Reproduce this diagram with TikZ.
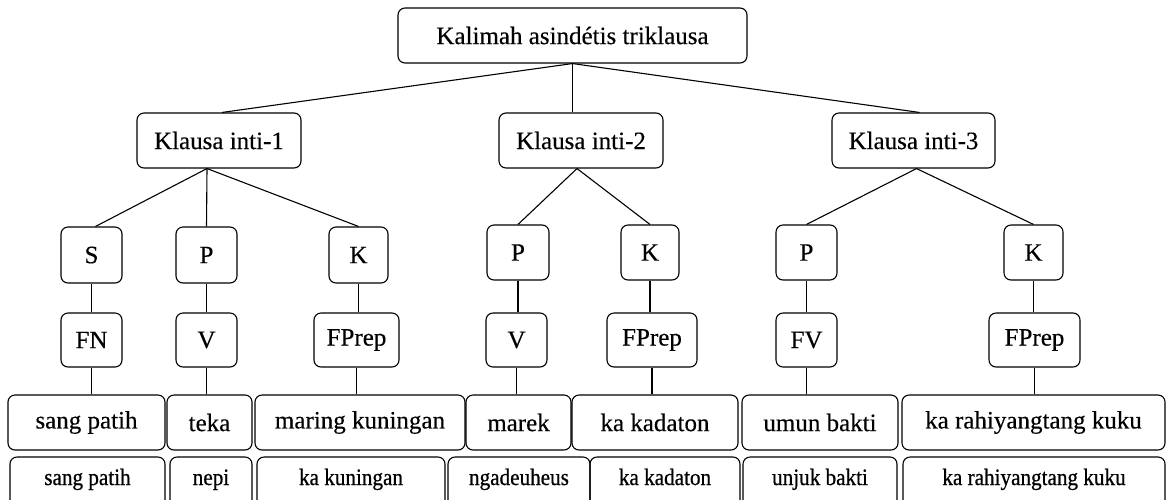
\documentclass[tikz,border=0pt]{standalone}
\usepackage{fontspec}
\setmainfont{Liberation Serif}[FakeBold=0.3]
\newfontfamily\glossfont[FakeStretch=0.9,FakeBold=0.7]{Liberation Serif}
\begin{document}
\begin{tikzpicture}[x=1pt,y=-1pt,
  box/.style={draw, rounded corners=7pt, line width=1.1pt, inner sep=0pt,
    font=\fontsize{25}{27}\selectfont, minimum height=55pt},
  gloss/.style={draw, rounded corners=7pt, line width=1.1pt, inner sep=0pt},
  glosstext/.style={font=\glossfont\fontsize{23.5}{25}\selectfont, anchor=base},
  link/.style={line width=1.1pt}]
\useasboundingbox (0,0) rectangle (1166,499);
\begin{scope}
\clip (0,0) rectangle (1166,499);
% root and the three clauses
\node[box, minimum width=349pt] (root) at (572.5,35.5) {Kalimah asindétis triklausa};
\node[box, minimum width=164pt] (k1) at (219,140.5) {Klausa inti-1};
\node[box, minimum width=164pt] (k2) at (581,140.5) {Klausa inti-2};
\node[box, minimum width=163pt] (k3) at (913.5,140.5) {Klausa inti-3};
% functions
\node[box, minimum width=61pt, minimum height=56pt] (s1) at (91.5,255) {S};
\node[box, minimum width=61pt, minimum height=56pt] (p1) at (206.5,255) {P};
\node[box, minimum width=59pt, minimum height=56pt] (c1) at (358.5,255) {K};
\node[box, minimum width=62pt] (p2) at (518,252.5) {P};
\node[box, minimum width=58pt] (c2) at (650,252.5) {K};
\node[box, minimum width=61pt] (p3) at (806.5,252.5) {P};
\node[box, minimum width=59pt] (c3) at (1033.5,252.5) {K};
% categories
\node[box, minimum width=61pt, minimum height=54pt] (fn) at (91.5,340) {FN};
\node[box, minimum width=61pt, minimum height=54pt] (v1) at (206.5,340) {V};
\node[box, minimum width=85pt, minimum height=54pt] (fp1) at (356.5,340) {FPrep};
\node[box, minimum width=61pt, minimum height=54pt] (v2) at (516.5,340) {V};
\node[box, minimum width=90pt, minimum height=54pt] (fp2) at (652,340) {FPrep};
\node[box, minimum width=61pt, minimum height=54pt] (fv) at (806.5,340) {FV};
\node[box, minimum width=91pt, minimum height=54pt] (fp3) at (1034.5,340) {FPrep};
% words
\node[box, minimum width=157pt] (w1) at (86.5,422.5) {sang patih};
\node[box, minimum width=85pt] (w2) at (209.5,422.5) {teka};
\node[box, minimum width=210pt] (w3) at (360,422.5) {maring kuningan};
\node[box, minimum width=105pt] (w4) at (518.5,422.5) {marek};
\node[box, minimum width=166pt] (w5) at (655,422.5) {ka kadaton};
\node[box, minimum width=156pt] (w6) at (820,422.5) {umun bakti};
\node[box, minimum width=263pt] (w7) at (1033.5,422.5) {ka rahiyangtang kuku};
% glosses
\node[gloss, minimum width=155pt, minimum height=50pt] (g1) at (87.5,482) {};
\node[gloss, minimum width=82pt, minimum height=50pt] (g2) at (211,482) {};
\node[gloss, minimum width=188pt, minimum height=50pt] (g3) at (351,482) {};
\node[gloss, minimum width=142pt, minimum height=50pt] (g4) at (519,482) {};
\node[gloss, minimum width=150pt, minimum height=50pt] (g5) at (665,482) {};
\node[gloss, minimum width=154pt, minimum height=50pt] (g6) at (820,482) {};
\node[gloss, minimum width=262pt, minimum height=50pt] (g7) at (1034,482) {};
\foreach \g/\t in {g1/sang patih, g2/nepi, g3/ka kuningan, g4/ngadeuheus,
  g5/ka kadaton, g6/unjuk bakti, g7/ka rahiyangtang kuku}
  \node[glosstext] at ([yshift=-3pt]\g.center) {\t};
\end{scope}
% tree connectors
\draw[link] (root.south) -- ([xshift=3pt]k1.north);
\draw[link] (root.south) -- (root.south |- k2.north);
\draw[link] (root.south) -- ([xshift=6pt]k3.north);
\draw[link] ([xshift=-12pt]k1.south) -- ([xshift=4pt]s1.north);
\draw[link] ([xshift=-12pt]k1.south) -- (p1.north);
\draw[link] ([xshift=-12pt]k1.south) -- (c1.north);
\draw[link] ([xshift=-4pt]k2.south) -- (p2.north);
\draw[link] ([xshift=-4pt]k2.south) -- (c2.north);
\draw[link] ([xshift=3pt]k3.south) -- (p3.north);
\draw[link] ([xshift=3pt]k3.south) -- (c3.north);
\foreach \a/\b in {s1/fn, p1/v1, c1/fp1, p2/v2, c2/fp2, p3/fv, c3/fp3}
  \draw[link] (\a.south) -- (\a.south |- \b.north);
\foreach \a/\b in {fn/w1, v1/w2, fp1/w3, v2/w4, fp2/w5, fv/w6, fp3/w7}
  \draw[link] (\a.south) -- (\a.south |- \b.north);
\end{tikzpicture}
\end{document}
